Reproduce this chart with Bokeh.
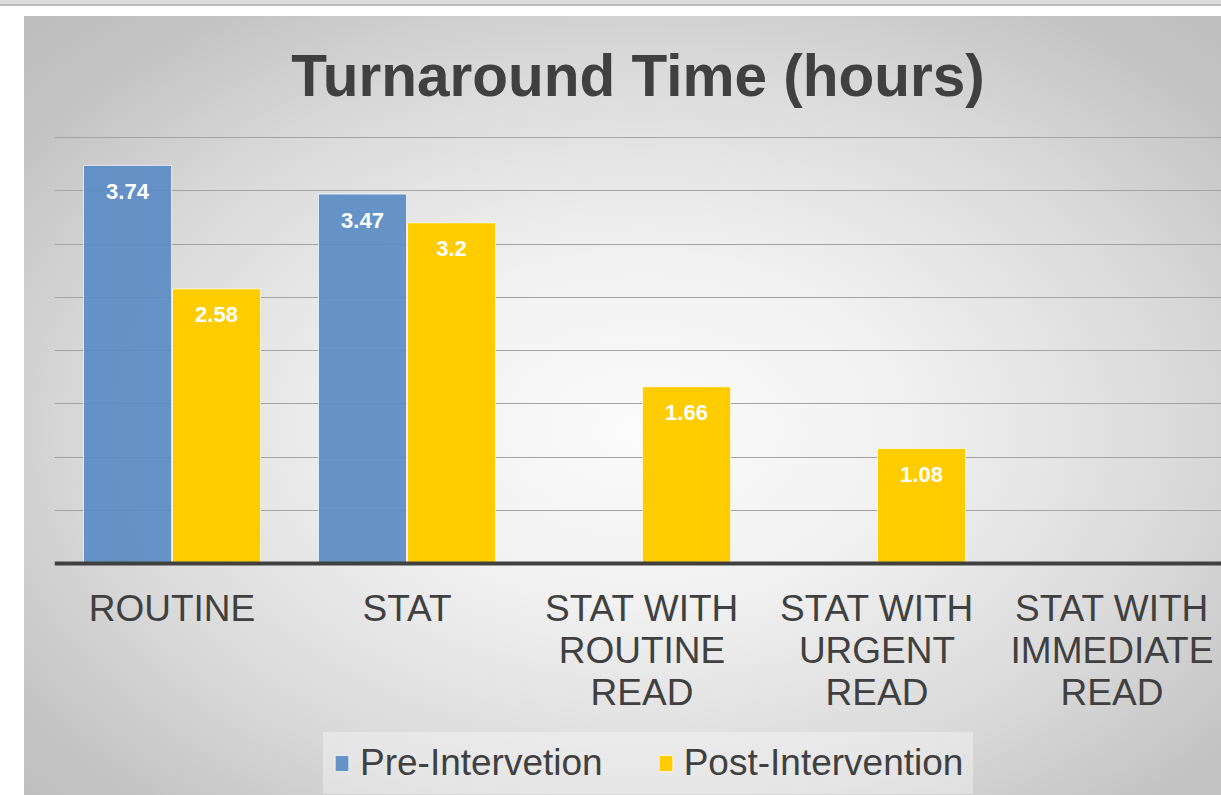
from bokeh.plotting import figure
from bokeh.models import ColumnDataSource, FixedTicker, Legend, LegendItem, Range1d
from bokeh.core.properties import value
from bokeh.embed import file_html
from bokeh.resources import INLINE

# ---------------- data ----------------
categories = ["ROUTINE", "STAT", "STAT WITH\nROUTINE\nREAD",
              "STAT WITH\nURGENT\nREAD", "STAT WITH\nIMMEDIATE\nREAD"]
pre_values = [3.74, 3.47, None, None, None]
post_values = [2.58, 3.2, 1.66, 1.08, None]
series_names = ["Pre-Intervetion", "Post-Intervention"]
grid_ticks = [0.5, 1.0, 1.5, 2.0, 2.5, 3.0, 3.5, 4.0]
chart_title = "Turnaround Time (hours)"

# ---------------- style ----------------
FONT = "Liberation Sans"
TEXT = "#404040"
BLUE = "#5a8bc4"
YELLOW = "#ffcc00"
BAR_W = 0.3745
OFF = 0.1894
W, H = 1221, 795
FRAME_LEFT, FRAME_TOP = 54, 132
PX_PER_CAT = 235.0
PX_PER_UNIT = 106.45
ZERO_Y = 563          # pixel row of the value axis zero line

pos = [i + 0.5 for i in range(len(categories))]


def make_source(vals, sign):
    xs, tops, labels = [], [], []
    for p_, v in zip(pos, vals):
        if v is None:
            continue
        xs.append(p_ + sign * OFF)
        tops.append(v)
        labels.append(f"{v:g}")
    return ColumnDataSource(dict(x=xs, top=tops, label=labels))


pre_src = make_source(pre_values, -1)
post_src = make_source(post_values, +1)

bg = ("linear-gradient(#dcdcdc, #dcdcdc) 0 0 / 100% 4px no-repeat, "
      "linear-gradient(#bdbdbd, #bdbdbd) 0 4px / 100% 2px no-repeat, "
      "radial-gradient(ellipse farthest-corner at 50% 52%, #fbfbfb 0%, #f1f1f1 30%, "
      "#dadada 62%, #c4c4c4 85%, #bdbdbd 100%) 24px 16px / 1236px 794px no-repeat, #ffffff")

x_end = (W - FRAME_LEFT) / PX_PER_CAT
y_start = -(H - ZERO_Y) / PX_PER_UNIT
y_end = (ZERO_Y - FRAME_TOP) / PX_PER_UNIT

p = figure(width=W, height=H, output_backend="svg", toolbar_location=None,
           x_range=Range1d(0, x_end), y_range=Range1d(y_start, y_end),
           min_border_left=FRAME_LEFT, min_border_right=0, min_border_top=FRAME_TOP,
           min_border_bottom=0, title=chart_title,
           styles={"background": bg})
p.background_fill_alpha = 0
p.border_fill_alpha = 0
p.outline_line_alpha = 0

p.title.text_font = FONT
p.title.text_font_size = "58.5px"
p.title.text_font_style = "bold"
p.title.text_color = TEXT
p.title.align = "center"
p.title.offset = 10
p.title.standoff = 50

p.xgrid.visible = False
p.ygrid.ticker = FixedTicker(ticks=grid_ticks)
p.ygrid.grid_line_color = "#a3a3a3"
p.ygrid.grid_line_width = 1.2
p.yaxis.visible = False

ax = p.xaxis[0]
ax.fixed_location = 0
ax.ticker = FixedTicker(ticks=pos)
ax.major_label_overrides = {p_: c for p_, c in zip(pos, categories)}
ax.major_label_text_font = FONT
ax.major_label_text_font_size = "37px"
ax.major_label_text_color = TEXT
ax.major_label_text_line_height = 1.03
ax.major_label_standoff = 18
ax.axis_line_color = TEXT
ax.axis_line_width = 4
ax.major_tick_line_alpha = 0
ax.minor_tick_line_alpha = 0

r_pre = p.vbar(x="x", top="top", width=BAR_W, source=pre_src, fill_color=BLUE,
               fill_alpha=0.92, line_color="white", line_alpha=0.7, line_width=1)
r_post = p.vbar(x="x", top="top", width=BAR_W, source=post_src, fill_color=YELLOW,
                line_color="white", line_alpha=0.7, line_width=1)

for s in (pre_src, post_src):
    p.text(x="x", y="top", text="label", source=s, text_font=value(FONT),
           text_font_style="bold", text_font_size="22px", text_color="white",
           text_align="center", text_baseline="middle", y_offset=26)

legend = Legend(items=[LegendItem(label=series_names[0], renderers=[r_pre]),
                       LegendItem(label=series_names[1], renderers=[r_post])],
                orientation="horizontal", location=(269, 1),
                label_text_font=FONT, label_text_font_size="37px",
                label_text_color=TEXT, glyph_width=17, glyph_height=20,
                label_standoff=10, spacing=54, padding=10, margin=0,
                background_fill_color="white", background_fill_alpha=0.35,
                border_line_alpha=0)
p.add_layout(legend, "center")

open("out.html", "w").write(file_html(p, INLINE))
